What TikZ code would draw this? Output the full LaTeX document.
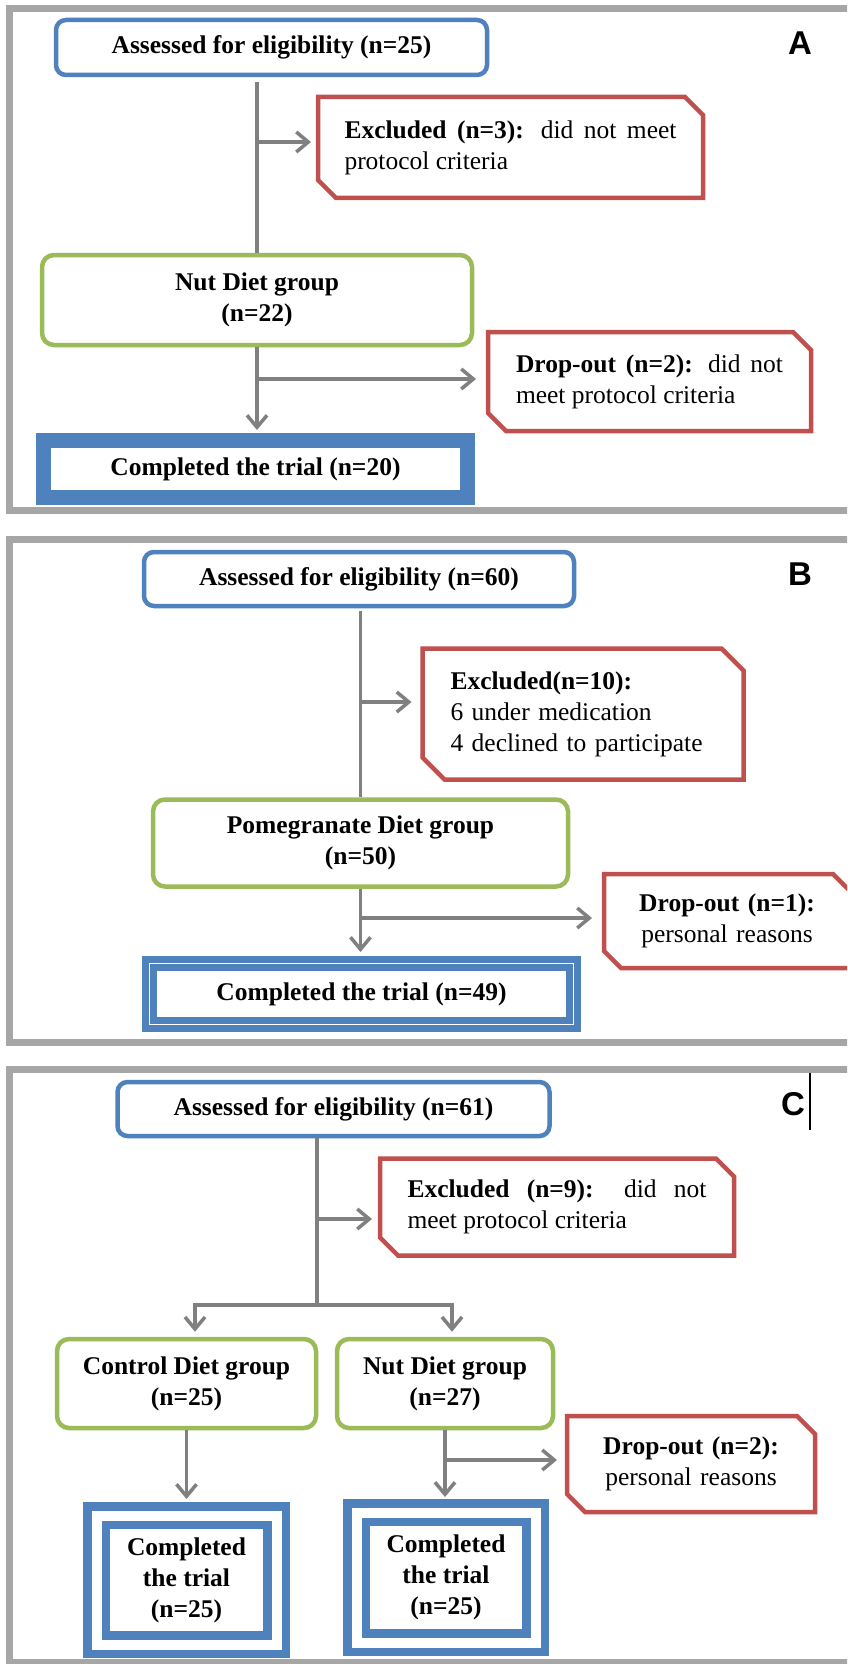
\documentclass[tikz,border=0pt]{standalone}
\usepackage{fontspec}
\setmainfont{Liberation Serif}
\newfontfamily\labelfont{Liberation Sans}
\usetikzlibrary{arrows.meta}
\definecolor{cblue}{RGB}{79,129,189}
\definecolor{cgreen}{RGB}{155,187,89}
\definecolor{cred}{RGB}{192,80,77}
\definecolor{cgray}{RGB}{128,128,128}
\definecolor{cframe}{RGB}{166,166,166}
\newcommand\cutoutline[2]{\draw[redline] (#1.north west) -- ([xshift=-#2]#1.north east) -- ([yshift=-#2]#1.north east) -- (#1.south east) -- ([xshift=#2]#1.south west) -- ([yshift=#2]#1.south west) -- cycle;}
\tikzset{
  base/.style={font=\fontsize{25.5}{31}\selectfont, inner sep=0pt},
  boldtext/.style={font=\fontsize{25.5}{31}\selectfont\bfseries},
  bluebox/.style={base, boldtext, draw=cblue, line width=4.5pt, rounded corners=10pt, fill=white, align=center},
  greenbox/.style={base, boldtext, draw=cgreen, line width=4.5pt, rounded corners=12pt, fill=white, align=center},
  cutbox/.style={base, outer sep=0pt},
  redline/.style={draw=cred, line width=4.5pt, line join=miter},
  donebox/.style={base, boldtext, draw=cblue, fill=white, align=center},
  conn/.style={draw=cgray, line width=3.5pt},
  arr/.style={-{Straight Barb[length=12pt,width=20pt]}},
  arrtwo/.style={{Straight Barb[length=12pt,width=20pt]}-{Straight Barb[length=12pt,width=20pt]}},
  panelframe/.style={draw=cframe, line width=7pt},
  panellabel/.style={font=\labelfont\fontsize{33}{33}\selectfont\bfseries, inner sep=0pt},
}
\begin{document}
\begin{tikzpicture}[x=1pt,y=-1pt]
\useasboundingbox (0,0) rectangle (847,1664);
\clip (0,0) rectangle (847,1664);
\fill[white] (0,0) rectangle (847,1664);
% panel frames
\draw[panelframe] (9,8.5) rectangle (880,510.5);
\draw[panelframe] (9,539) rectangle (880,1042);
\draw[panelframe] (9,1069.5) rectangle (880,1662);

% ---------------- Panel A
\node[panellabel] (labA) at (800,43) {A};
\node[bluebox, minimum width=431pt, minimum height=55pt] (aA) at (271.5,47.5) {Assessed for eligibility (n=25)};
\node[cutbox, minimum width=385pt, minimum height=101pt, text width=332pt, align=justify] (exA) at (510.5,147.5) {\textbf{Excluded (n=3):} did not meet\linebreak protocol criteria};
\cutoutline{exA}{18pt}
\node[greenbox, minimum width=430pt, minimum height=90pt] (gA) at (257,300) {Nut Diet group\\(n=22)};
\node[cutbox, minimum width=323pt, minimum height=99pt, text width=267pt, align=justify] (dA) at (649.5,381.5) {\textbf{Drop-out (n=2):} did not\linebreak meet protocol criteria};
\cutoutline{dA}{18pt}
\node[donebox, line width=15pt, outer sep=7.5pt, minimum width=424pt, minimum height=57pt] (cA) at (255.5,469) {Completed the trial (n=20)};
\coordinate (jA1) at (257,142);
\coordinate (jA2) at (257,379);
\draw[conn, shorten <=5pt] (gA.north |- aA.south) -- (gA.north);
\draw[conn, arr, shorten >=7pt] (jA1) -- (jA1 -| exA.west);
\draw[conn, arr, shorten >=3pt] (gA.south) -- (gA.south |- cA.north);
\draw[conn, arr, shorten >=12pt] (jA2) -- (jA2 -| dA.west);

% ---------------- Panel B
\node[panellabel] (labB) at (800,574) {B};
\node[bluebox, minimum width=430pt, minimum height=54pt] (aB) at (359,579) {Assessed for eligibility (n=60)};
\node[cutbox, minimum width=321pt, minimum height=131pt, text width=265pt, align=left] (exB) at (583,714) {\textbf{Excluded(n=10):}\\6 under medication\\4 declined to participate};
\cutoutline{exB}{22pt}
\node[greenbox, minimum width=415pt, minimum height=87pt] (gB) at (360.5,843) {Pomegranate Diet group\\(n=50)};
\node[cutbox, minimum width=246pt, minimum height=94pt, text width=246pt, align=center] (dB) at (727,921) {\textbf{Drop-out (n=1):}\\personal reasons};
\cutoutline{dB}{17pt}
\node[donebox, line width=6.9pt, double=white, double distance=1.2pt, outer sep=7.5pt, minimum width=424pt, minimum height=61pt] (cB) at (361.5,994) {Completed the trial (n=49)};
\coordinate (jB1) at (360.5,702);
\coordinate (jB2) at (360.5,918);
\draw[conn, shorten <=3pt] (gB.north |- aB.south) -- (gB.north);
\draw[conn, arr, shorten >=11pt] (jB1) -- (jB1 -| exB.west);
\draw[conn, arr, shorten >=4pt] (gB.south) -- (gB.south |- cB.north);
\draw[conn, arr, shorten >=12pt] (jB2) -- (jB2 -| dB.west);

% ---------------- Panel C
\node[panellabel] (labC) at (793,1104) {C};
\draw[line width=1.5pt] (810,1073) -- (810,1130);
\node[bluebox, minimum width=432pt, minimum height=54pt] (aC) at (333.5,1109) {Assessed for eligibility (n=61)};
\node[cutbox, minimum width=354pt, minimum height=97pt, text width=299pt, align=justify] (exC) at (557,1207) {\textbf{Excluded (n=9):} did not\linebreak meet protocol criteria};
\cutoutline{exC}{18pt}
\node[greenbox, minimum width=259pt, minimum height=89pt] (gC1) at (186.5,1383.5) {Control Diet group\\(n=25)};
\node[greenbox, minimum width=216pt, minimum height=89pt] (gC2) at (445,1383.5) {Nut Diet group\\(n=27)};
\node[cutbox, minimum width=248pt, minimum height=96pt, text width=248pt, align=center] (dC) at (691,1464) {\textbf{Drop-out (n=2):}\\personal reasons};
\cutoutline{dC}{18pt}
\node[donebox, line width=8.5pt, double=white, double distance=10pt, outer sep=13.5pt, minimum width=180pt, minimum height=129pt] (cC1) at (186.5,1580) {Completed\\the trial\\(n=25)};
\node[donebox, line width=8.5pt, double=white, double distance=10pt, outer sep=13.5pt, minimum width=179pt, minimum height=130pt] (cC2) at (446,1577.5) {Completed\\the trial\\(n=25)};
\coordinate (brC) at (317,1305);
\coordinate (brL) at (195,1305);
\coordinate (brR) at (452,1305);
\coordinate (jC1) at (317,1219);
\coordinate (jC2) at (444,1460);
\draw[conn] (brC |- aC.south) -- (brC);
\draw[conn, arr, shorten >=8pt] (jC1) -- (jC1 -| exC.west);
\draw[conn, arrtwo, shorten <=5pt, shorten >=5pt] (brL |- gC1.north) -- (brL) -- (brR) -- (brR |- gC2.north);
\draw[conn, arr, shorten >=3pt] (gC1.south) -- (gC1.south |- cC1.north);
\draw[conn, arr, shorten >=2pt] (gC2.south) -- (gC2.south |- cC2.north);
\draw[conn, arr, shorten >=10pt] (jC2) -- (jC2 -| dC.west);
\end{tikzpicture}
\end{document}
